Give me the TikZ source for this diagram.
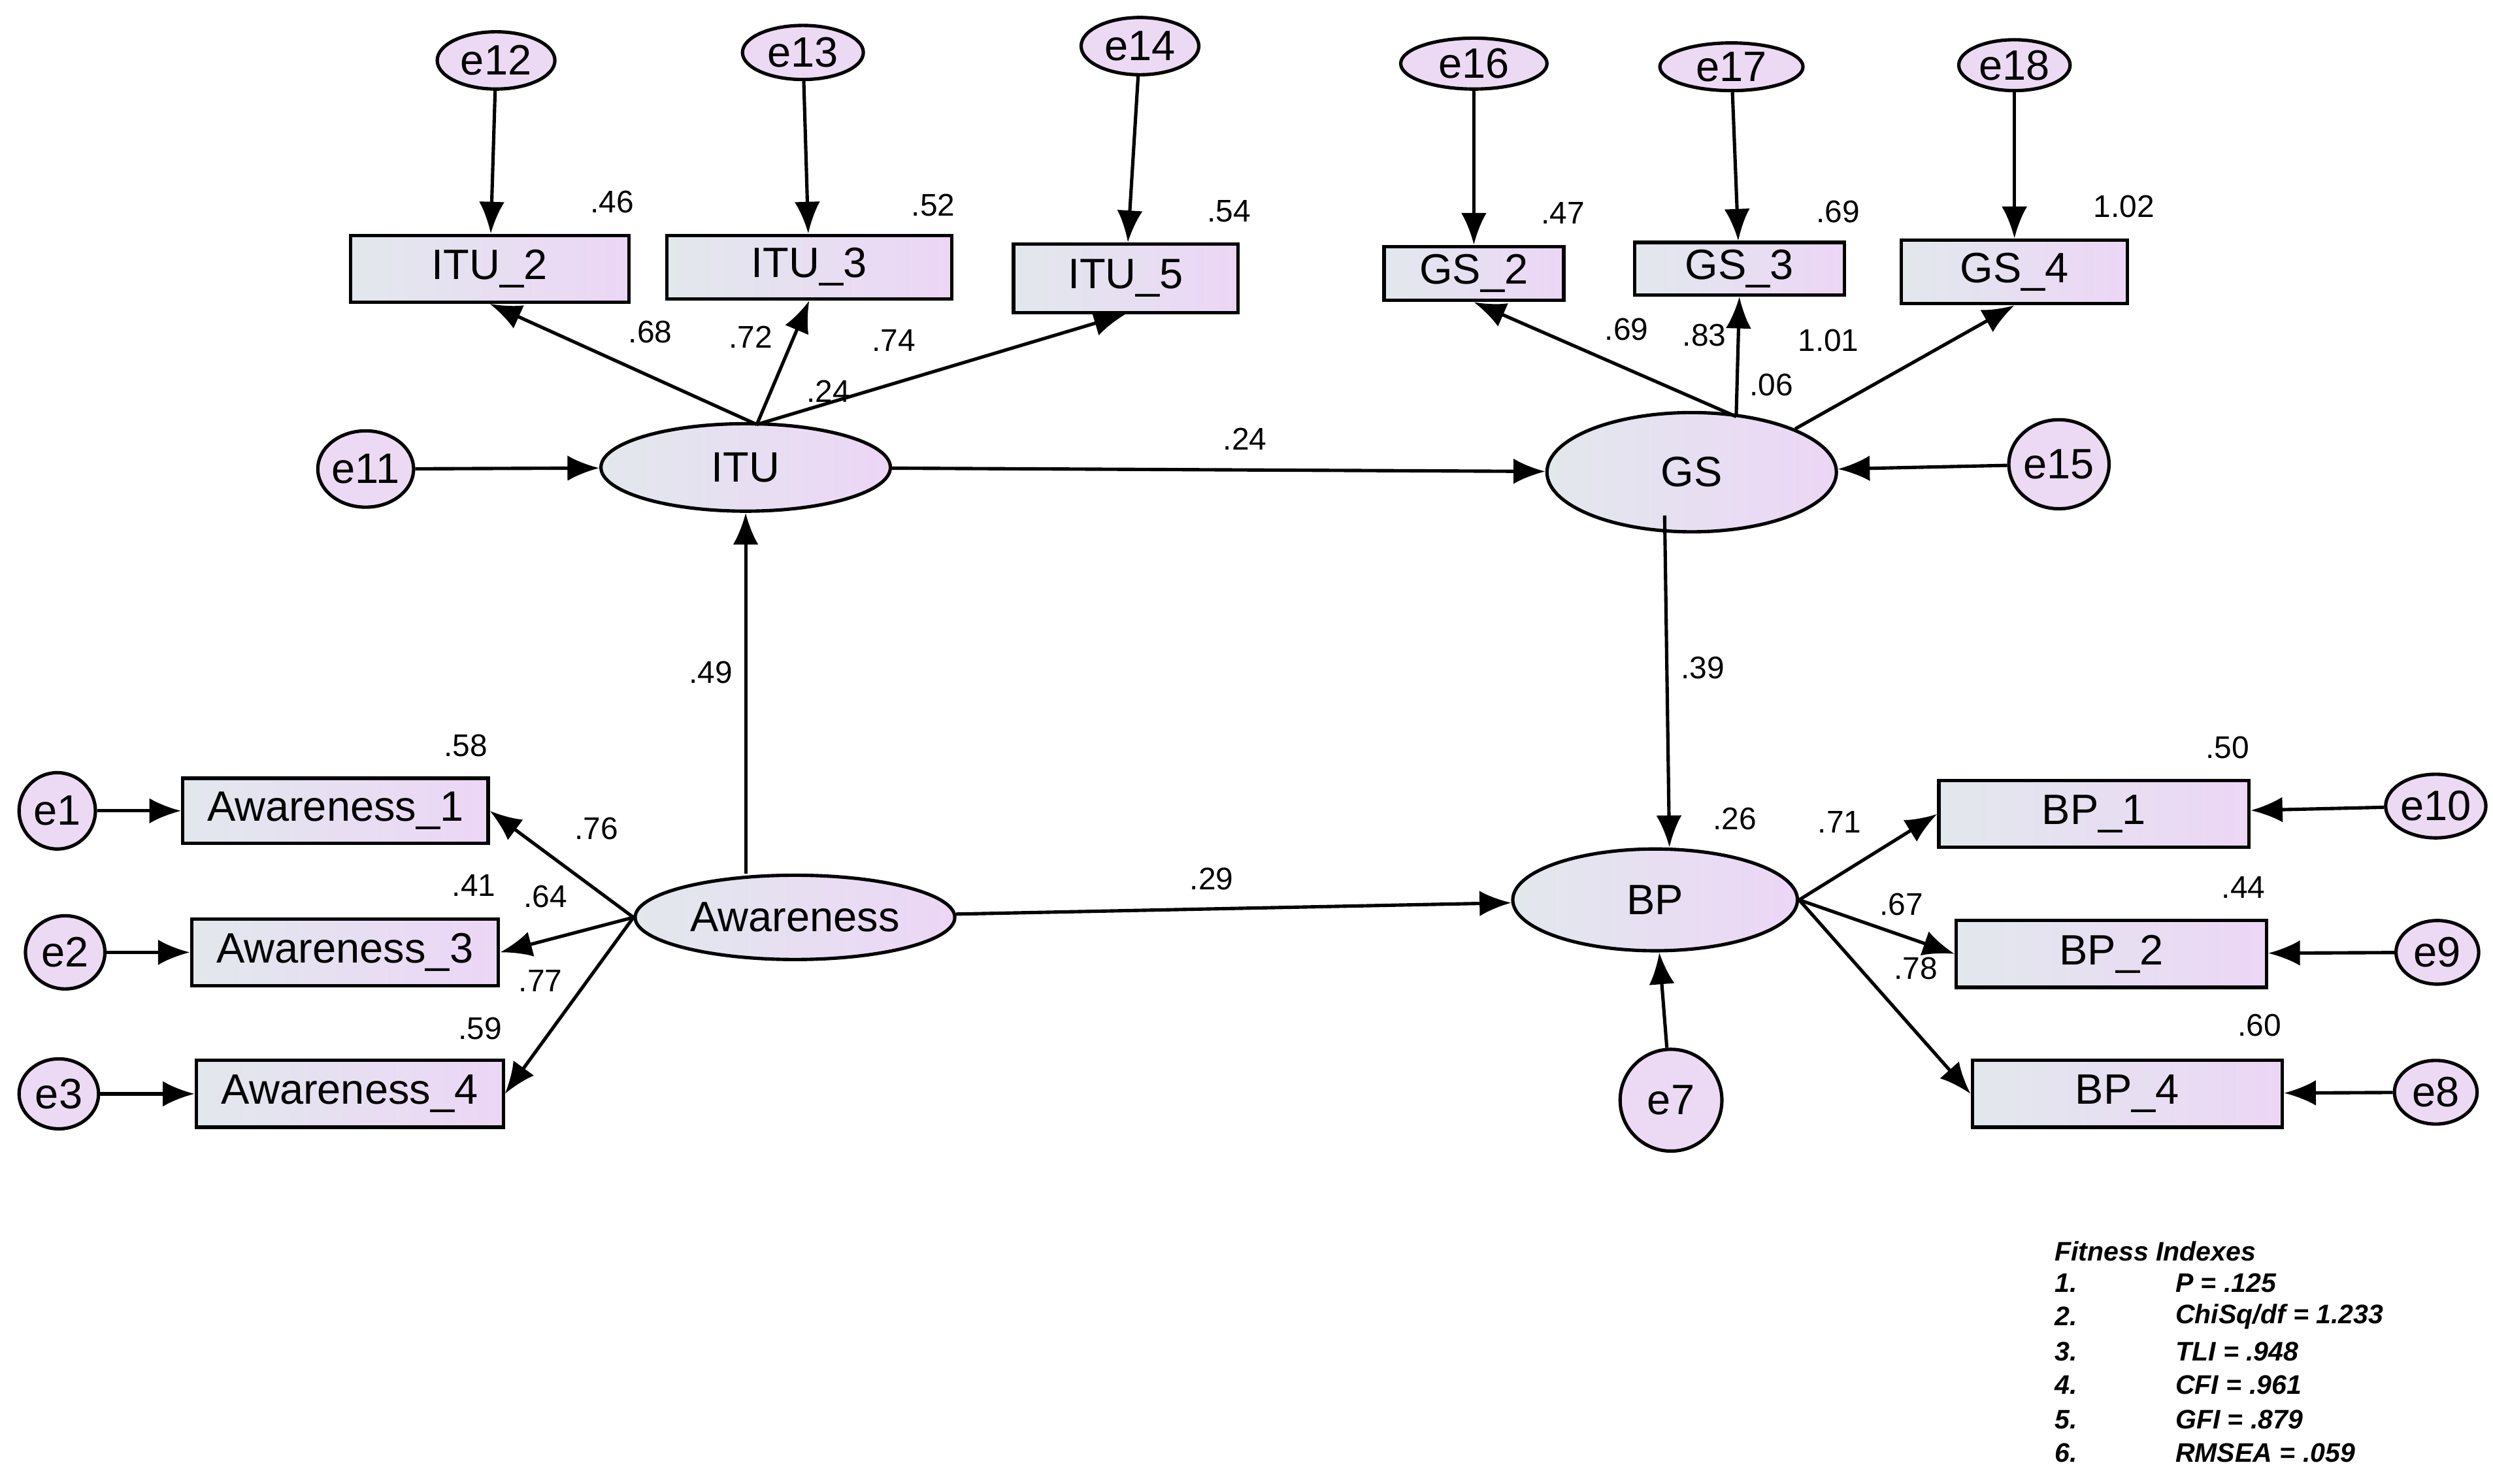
\documentclass[tikz,border=0pt]{standalone}
\usepackage{fontspec}
\setmainfont{Liberation Sans}
\usetikzlibrary{shapes.geometric,arrows.meta}
\begin{document}
\begin{tikzpicture}[x=0.025cm,y=-0.025cm,
 every node/.style={inner sep=0pt},
 box/.style={draw,line width=1.5pt,left color={rgb,255:red,226;green,232;blue,236},right color={rgb,255:red,236;green,214;blue,246},font=\fontsize{19}{22}\selectfont},
 lat/.style={draw,ellipse,line width=1.5pt,left color={rgb,255:red,226;green,232;blue,236},right color={rgb,255:red,236;green,214;blue,246},font=\fontsize{19}{22}\selectfont},
 err/.style={draw,ellipse,line width=1.5pt,fill={rgb,255:red,236;green,218;blue,244},font=\fontsize{19}{22}\selectfont},
 lab/.style={font=\fontsize{14}{16}\selectfont},
 arr/.style={line width=1.5pt,-{Latex[length=5mm,width=4mm]}}]
\useasboundingbox (0,0) rectangle (1568,933);
% error terms top
\node[err,minimum width=1.85cm,minimum height=0.9cm] (e12) at (312,38) {e12};
\node[err,minimum width=1.9cm,minimum height=0.85cm] (e13) at (505,33) {e13};
\node[err,minimum width=1.85cm,minimum height=0.9cm] (e14) at (717,29) {e14};
\node[err,minimum width=2.3cm,minimum height=0.8cm] (e16) at (927,40) {e16};
\node[err,minimum width=2.25cm,minimum height=0.75cm] (e17) at (1089,42) {e17};
\node[err,minimum width=1.75cm,minimum height=0.8cm] (e18) at (1267,41) {e18};
% indicator boxes
\node[box,minimum width=4.375cm,minimum height=1.05cm] (itu2) at (308,169) {ITU\_2};
\node[box,minimum width=4.475cm,minimum height=1cm] (itu3) at (509,168) {ITU\_3};
\node[box,minimum width=3.525cm,minimum height=1.075cm] (itu5) at (708,175) {ITU\_5};
\node[box,minimum width=2.825cm,minimum height=0.85cm] (gs2) at (927,172) {GS\_2};
\node[box,minimum width=3.3cm,minimum height=0.825cm] (gs3) at (1094,169) {GS\_3};
\node[box,minimum width=3.55cm,minimum height=1cm] (gs4) at (1267,171) {GS\_4};
% latent
\node[lat,minimum width=4.55cm,minimum height=1.375cm] (itu) at (469,294) {ITU};
\node[lat,minimum width=4.55cm,minimum height=1.875cm] (gs) at (1064,297) {GS};
\node[lat,minimum width=5.025cm,minimum height=1.325cm] (aw) at (500,577) {Awareness};
\node[lat,minimum width=4.475cm,minimum height=1.6cm] (bp) at (1041,566) {BP};
\node[err,minimum width=1.2cm,minimum height=1.2cm] (e11) at (230,295) {e11};
\node[err,minimum width=1.4cm,minimum height=1.4cm] (e15) at (1295,292) {e15};
\node[err,minimum width=1.6cm,minimum height=1.6cm] (e7) at (1051,692) {e7};
% awareness indicators
\node[box,minimum width=4.8cm,minimum height=1.025cm] (a1) at (211,510) {Awareness\_1};
\node[box,minimum width=4.825cm,minimum height=1.05cm] (a3) at (217,599) {Awareness\_3};
\node[box,minimum width=4.825cm,minimum height=1.05cm] (a4) at (220,688) {Awareness\_4};
\node[err,minimum width=1.2cm,minimum height=1.2cm] (e1) at (36,510) {e1};
\node[err,minimum width=1.25cm,minimum height=1.15cm] (e2) at (41,599) {e2};
\node[err,minimum width=1.25cm,minimum height=1.1cm] (e3) at (37,688) {e3};
% BP indicators
\node[box,minimum width=4.875cm,minimum height=1.05cm] (b1) at (1317,512) {BP\_1};
\node[box,minimum width=4.875cm,minimum height=1.05cm] (b2) at (1328,600) {BP\_2};
\node[box,minimum width=4.875cm,minimum height=1.05cm] (b4) at (1338,688) {BP\_4};
\node[err,minimum width=1.3cm,minimum height=1cm] (e10) at (1532,507) {e10};
\node[err,minimum width=1.3cm,minimum height=1cm] (e9) at (1533,599) {e9};
\node[err,minimum width=1.3cm,minimum height=1cm] (e8) at (1532,687) {e8};
% coordinates
\coordinate (itut) at (476,267);
\coordinate (gst) at (1092,262);
% arrows
\draw[arr] (e12) -- (itu2);
\draw[arr] (e13) -- (itu3);
\draw[arr] (e14) -- (itu5);
\draw[arr] (e16) -- (gs2);
\draw[arr] (e17) -- (gs3);
\draw[arr] (e18) -- (gs4);
\draw[arr] (itut) -- (itu2.south);
\draw[arr] (itut) -- (itu3.south);
\draw[arr] (itut) -- (itu5.south);
\draw[arr] (gst) -- (gs2.south);
\draw[arr] (gst) -- (gs3.south);
\draw[arr] (gs.north east) -- (gs4.south);
\draw[arr] (e11) -- (itu);
\draw[arr] (e15) -- (gs);
\draw[arr] (itu) -- (gs);
\draw[arr] (aw.north -| itu.south) -- (itu.south);
\draw[arr] (gs.south west -| 1047,0) -- (bp.north -| 1050,0);
\draw[arr] (aw) -- (bp);
\draw[arr] (e7) -- (bp);
\draw[arr] (aw.west) -- (a1.east);
\draw[arr] (aw.west) -- (a3.east);
\draw[arr] (aw.west) -- (a4.east);
\draw[arr] (e1) -- (a1);
\draw[arr] (e2) -- (a3);
\draw[arr] (e3) -- (a4);
\draw[arr] (bp.east) -- (b1.west);
\draw[arr] (bp.east) -- (b2.west);
\draw[arr] (bp.east) -- (b4.west);
\draw[arr] (e10) -- (b1);
\draw[arr] (e9) -- (b2);
\draw[arr] (e8) -- (b4);
% labels
\foreach \p/\t in {{(385,127)}/.46,{(587,129)}/.52,{(773,133)}/.54,{(983,134)}/.47,{(1156,133)}/.69,{(1336,130)}/1.02,
 {(409,209)}/.68,{(472,212)}/.72,{(562,214)}/.74,{(521,246)}/.24,{(1023,207)}/.69,{(1072,211)}/.83,{(1114,242)}/.06,{(1150,214)}/1.01,
 {(783,276)}/.24,{(447,423)}/.49,{(1071,420)}/.39,{(293,469)}/.58,{(375,521)}/.76,{(298,557)}/.41,{(343,564)}/.64,{(340,617)}/.77,{(302,647)}/.59,
 {(762,553)}/.29,{(1091,515)}/.26,{(1401,470)}/.50,{(1157,517)}/.71,{(1196,569)}/.67,{(1411,558)}/.44,{(1205,609)}/.78,{(1421,645)}/.60}
 \node[lab] at \p {\t};
% fitness
\begin{scope}[every node/.style={anchor=west,inner sep=0pt,font=\fontsize{12}{14}\selectfont\bfseries\itshape}]
\node (ft) at (1292,787) {Fitness Indexes};
\node (f1) at (1292,807) {1.}; \node (g1) at (1368,807) {P = .125};
\node (f2) at (1292,828) {2.}; \node (g2) at (1368,828) {ChiSq/df = 1.233};
\node (f3) at (1292,850) {3.}; \node (g3) at (1368,850) {TLI = .948};
\node (f4) at (1292,871) {4.}; \node (g4) at (1368,871) {CFI = .961};
\node (f5) at (1292,893) {5.}; \node (g5) at (1368,893) {GFI = .879};
\node (f6) at (1292,914) {6.}; \node (g6) at (1368,914) {RMSEA = .059};
\end{scope}
\end{tikzpicture}
\end{document}
